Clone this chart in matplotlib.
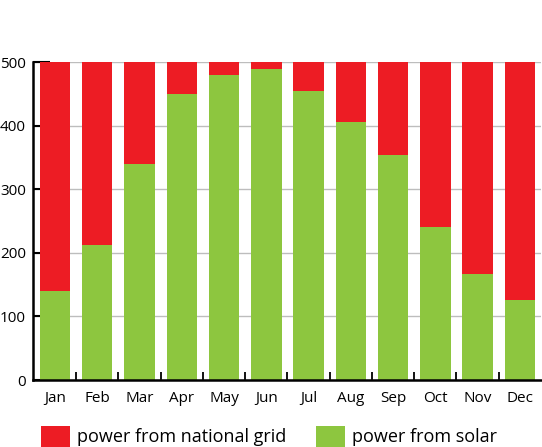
import numpy as np
import matplotlib.pyplot as plt
from matplotlib.patches import Patch
from matplotlib.ticker import FixedLocator

plt.rcParams['font.family'] = ['Open Sans', 'DejaVu Sans']

# ----------------------------
# Data
# ----------------------------
months = ["Jan", "Feb", "Mar", "Apr", "May", "Jun",
          "Jul", "Aug", "Sep", "Oct", "Nov", "Dec"]
solar = [140, 212, 340, 450, 480, 489, 454, 406, 354, 241, 166, 126]
total = [500] * 12
grid = [t - s for t, s in zip(total, solar)]

red = "#ED1C24"
green = "#8DC63F"

# ----------------------------
# Plot
# ----------------------------
fig = plt.figure(figsize=(5.42, 4.47), dpi=100)
ax = fig.add_axes([33 / 542, 1 - 380 / 447, (541 - 33) / 542, (380 - 62) / 447])

x = np.arange(len(months))
ax.bar(x, solar, width=0.72, color=green, zorder=2)
ax.bar(x, grid, bottom=solar, width=0.72, color=red, zorder=2)

ax.set_xlim(-0.52, 11.5)
ax.set_ylim(0, 500)
ax.set_yticks([0, 100, 200, 300, 400, 500])
ax.yaxis.grid(True, color="#bdbdbd", linewidth=1, zorder=0)
ax.set_axisbelow(True)

ax.set_xticks(x)
ax.set_xticklabels(months, fontsize=11)
ax.tick_params(axis="x", which="major", length=0, pad=8)
ax.xaxis.set_minor_locator(FixedLocator(x[:-1] + 0.5))
ax.tick_params(axis="x", which="minor", direction="in", length=6, width=1.3)
ax.tick_params(axis="y", direction="in", length=12, width=1.5, labelsize=11, pad=5)
for t in ax.yaxis.get_major_ticks():
    t.tick1line.set_zorder(5)

for side in ["top", "right"]:
    ax.spines[side].set_visible(False)
for side in ["left", "bottom"]:
    ax.spines[side].set_linewidth(1.8)
    ax.spines[side].set_zorder(5)

handles = [Patch(facecolor=red, label="power from national grid"),
           Patch(facecolor=green, label="power from solar")]
fig.legend(handles=handles, loc="lower left", bbox_to_anchor=(0.045, -0.036),
           ncol=2, frameon=False, fontsize=13, handlelength=1.6,
           handleheight=1.4, handletextpad=0.4, columnspacing=1.65)

fig.savefig("out.png", dpi=100)
